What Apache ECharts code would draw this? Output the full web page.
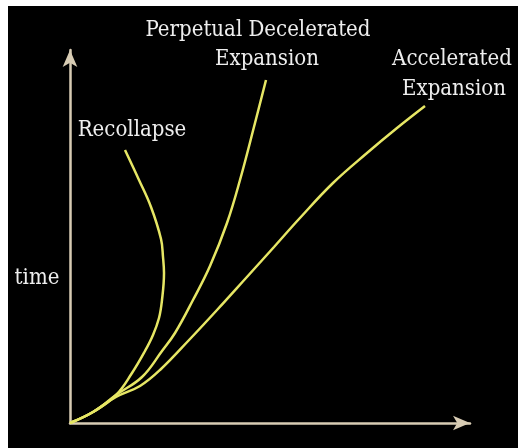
<!DOCTYPE html>
<html>
<head>
<meta charset="utf-8">
<script src="https://cdn.jsdelivr.net/npm/echarts@6/dist/echarts.min.js"></script>
<style>
  html, body { margin: 0; padding: 0; background: #fff; }
  #chart { position: absolute; left: 8px; top: 6px; width: 510px; height: 442px; }
</style>
</head>
<body>
<div id="chart"></div>
<script>
// size (x) vs time (y) in pixels from the origin
const recollapse = [
  [0, 0], [23, 11], [46, 28], [62, 50], [75, 72], [83, 88], [89, 105],
  [92, 123], [94, 150], [93, 166], [91, 184], [81, 216], [69, 243], [55, 273]
]
const perpetual = [
  [0, 0], [23, 11], [46, 28], [72, 46], [92, 72], [105, 90], [123, 123],
  [140, 157], [157, 200], [170, 243], [185, 300], [196, 343]
]
const accelerated = [
  [0, 0], [23, 11], [46, 26], [70, 37], [90, 53], [120, 84], [147, 113],
  [176, 145], [204, 176], [229, 204], [263, 240], [297, 270], [327, 295], [355, 317]
]
const labels = [
  { text: 'Perpetual Decelerated', x: 250, y: 24 },
  { text: 'Expansion', x: 259, y: 53 },
  { text: 'Accelerated', x: 444, y: 53 },
  { text: 'Expansion', x: 446, y: 83 },
  { text: 'Recollapse', x: 124, y: 124 },
  { text: 'time', x: 29, y: 272 }
]

const curveColor = '#e6e664'
const axisColor = '#d8ccb4'
const font = '"DejaVu Serif Condensed", "DejaVu Serif", serif'

const axisCommon = {
  type: 'value',
  min: 0,
  axisLine: {
    show: true,
    lineStyle: { color: axisColor, width: 2.5 },
    symbol: ['none', 'arrow'],
    symbolSize: [11, 17]
  },
  axisTick: { show: false },
  axisLabel: { show: false },
  splitLine: { show: false }
}

const makeSeries = (name, data) => ({
  name,
  type: 'line',
  data,
  smooth: 0.4,
  showSymbol: false,
  lineStyle: { color: curveColor, width: 2.5 }
})

const chart = echarts.init(document.getElementById('chart'))
chart.setOption({
  backgroundColor: '#000',
  animation: false,
  grid: { left: 62, top: 44, width: 400, height: 373 },
  xAxis: Object.assign({}, axisCommon, { max: 400 }),
  yAxis: Object.assign({}, axisCommon, { max: 373 }),
  graphic: labels.map(l => ({
    type: 'text',
    x: l.x,
    y: l.y,
    style: {
      text: l.text,
      fill: '#eeeeee',
      font: '22px ' + font,
      align: 'center',
      verticalAlign: 'middle'
    }
  })),
  series: [
    makeSeries('Recollapse', recollapse),
    makeSeries('Perpetual Decelerated Expansion', perpetual),
    makeSeries('Accelerated Expansion', accelerated)
  ]
})
</script>
</body>
</html>
